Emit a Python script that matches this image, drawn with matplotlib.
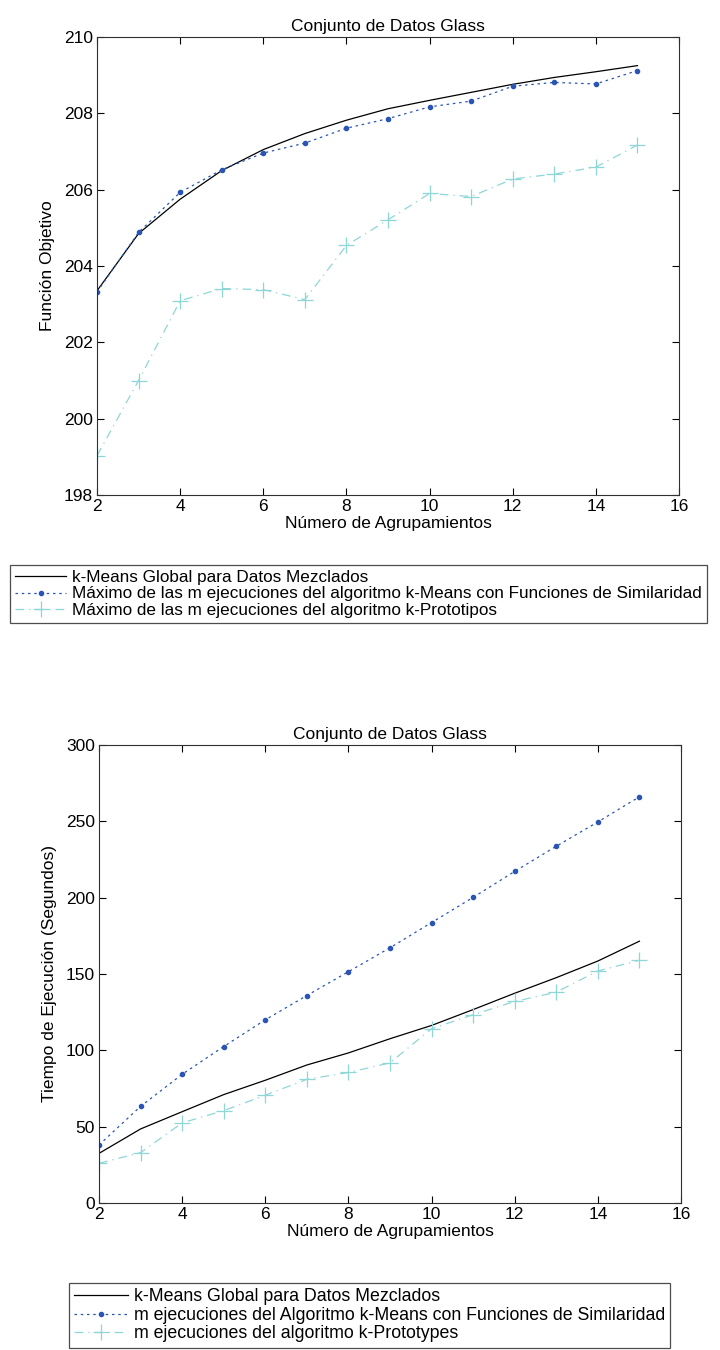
import numpy as np
import matplotlib.pyplot as plt

# Data (Glass dataset)
k = [2, 3, 4, 5, 6, 7, 8, 9, 10, 11, 12, 13, 14, 15]

obj_global = [203.35, 204.85, 205.75, 206.5, 207.05, 207.47, 207.82, 208.12,
              208.34, 208.55, 208.76, 208.94, 209.09, 209.25]
obj_kmeans_sim = [203.32, 204.88, 205.93, 206.52, 206.96, 207.22, 207.61, 207.86,
                  208.17, 208.32, 208.71, 208.81, 208.77, 209.12]
obj_kproto = [199.03, 201.0, 203.09, 203.41, 203.38, 203.12, 204.54, 205.21,
              205.9, 205.82, 206.28, 206.41, 206.59, 207.17]

time_global = [32.5, 48.5, 59.8, 71.0, 80.4, 90.4, 98.3, 107.6, 116.3, 126.7,
               137.4, 147.6, 158.5, 171.5]
time_kmeans_sim = [38.0, 63.3, 84.3, 102.5, 120.0, 135.9, 151.5, 167.2, 183.7,
                   200.2, 217.2, 233.7, 249.6, 266.1]
time_kproto = [26.0, 33.0, 52.5, 60.5, 70.6, 81.0, 85.5, 91.8, 114.2, 123.3,
               132.0, 138.1, 152.0, 159.0]

top_labels = ['k-Means Global para Datos Mezclados',
              'Máximo de las m ejecuciones del algoritmo k-Means con Funciones de Similaridad',
              'Máximo de las m ejecuciones del algoritmo k-Prototipos']
bottom_labels = ['k-Means Global para Datos Mezclados',
                 'm ejecuciones del Algoritmo k-Means con Funciones de Similaridad',
                 'm ejecuciones del algoritmo k-Prototypes']

x_ticks = [2, 4, 6, 8, 10, 12, 14, 16]

plt.rcParams['font.family'] = ['Liberation Sans', 'DejaVu Sans']

BLACK = '#000000'
BLUE = '#2a55b5'
CYAN = '#8fd6d6'
FS = 12.5

W, H = 720, 1350
fig = plt.figure(figsize=(W / 100, H / 100), dpi=100)


def ax_rect(left, top, right, bottom):
    return [left / W, 1 - bottom / H, (right - left) / W, (bottom - top) / H]


def draw(ax, y1, y2, y3):
    l1, = ax.plot(k, y1, color=BLACK, lw=0.9, linestyle='-')
    l2, = ax.plot(k, y2, color=BLUE, lw=0.9, linestyle=(0, (2, 3)),
                  marker='.', markersize=6)
    l3, = ax.plot(k, y3, color=CYAN, lw=0.9, linestyle=(0, (7, 4, 1, 4)),
                  marker='+', markersize=11, markeredgewidth=0.9)
    ax.set_xlim(2, 16)
    ax.set_xticks(x_ticks)
    ax.tick_params(direction='in', top=True, right=True, length=5,
                   width=0.8, labelsize=12.5, pad=3)
    for s in ax.spines.values():
        s.set_linewidth(0.8)
        s.set_color('#303030')
    ax.set_title('Conjunto de Datos Glass', fontsize=FS, pad=4)
    ax.set_xlabel('Número de Agrupamientos', fontsize=FS, labelpad=1)
    return [l1, l2, l3]


ax1 = fig.add_axes(ax_rect(97, 37, 679, 495))
h1 = draw(ax1, obj_global, obj_kmeans_sim, obj_kproto)
ax1.set_ylim(198, 210)
ax1.set_yticks(np.arange(198, 211, 2))
ax1.set_ylabel('Función Objetivo', fontsize=FS, labelpad=6)

ax2 = fig.add_axes(ax_rect(99, 745, 681, 1203))
h2 = draw(ax2, time_global, time_kmeans_sim, time_kproto)
ax2.set_ylim(0, 300)
ax2.set_yticks(np.arange(0, 301, 50))
ax2.set_ylabel('Tiempo de Ejecución (Segundos)', fontsize=FS, labelpad=6)

leg_kw = dict(frameon=True, fancybox=False, handlelength=3.0,
              handletextpad=0.35, borderpad=0.3, labelspacing=0.08,
              borderaxespad=0, loc='upper left')

# the long top legend is kept just inside the right edge
lg1 = fig.legend(h1, top_labels, bbox_to_anchor=(10 / W, 1 - 565 / H),
                 fontsize=12.3, **leg_kw)
lg2 = fig.legend(h2, bottom_labels, bbox_to_anchor=(69 / W, 1 - 1283 / H),
                 fontsize=12.8, **leg_kw)
for lg in (lg1, lg2):
    fr = lg.get_frame()
    fr.set_edgecolor('#202020')
    fr.set_linewidth(0.9)
    fr.set_boxstyle('square', pad=0)

fig.savefig('out.png', dpi=100)
